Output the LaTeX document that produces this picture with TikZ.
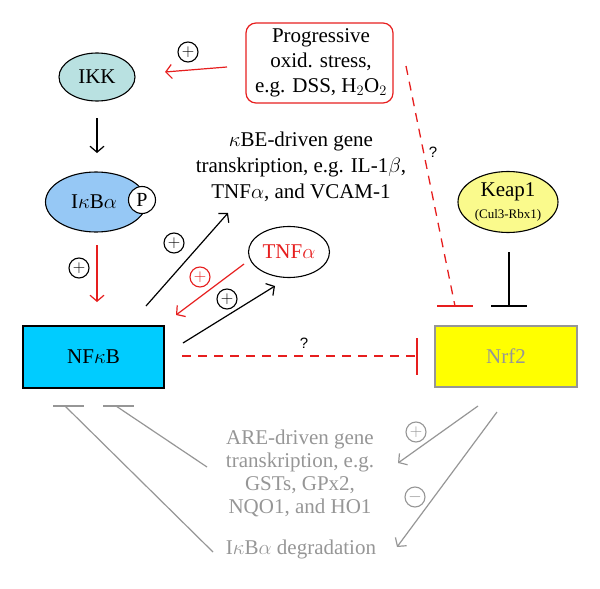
\documentclass[tikz,border=0pt]{standalone}
\usepackage{fontspec}
\setmainfont{Liberation Serif}
\setsansfont{Liberation Sans}
\usetikzlibrary{arrows.meta,shapes.geometric}
\definecolor{ikkfill}{RGB}{185,225,225}
\definecolor{ikbfill}{RGB}{150,200,245}
\definecolor{nfkbfill}{RGB}{0,204,255}
\definecolor{nrffill}{RGB}{255,255,0}
\definecolor{keapfill}{RGB}{250,250,140}
\definecolor{myred}{RGB}{230,30,30}
\definecolor{mygray}{RGB}{150,150,150}
\tikzset{
  txt/.style={font=\fontsize{21}{24}\selectfont, align=center, inner sep=0pt},
  arr/.style={-{Straight Barb[length=6pt,width=14pt]}, line width=1.2pt},
  bar/.style={line width=1.4pt},
  pluscirc/.style={circle, draw, line width=1.1pt, minimum size=20pt, inner sep=0pt, font=\fontsize{16}{16}\selectfont},
  qmark/.style={font=\sffamily\fontsize{15}{15}\selectfont, inner sep=0pt},
  ell/.style={ellipse, draw, line width=1.1pt, inner sep=0pt},
  boxn/.style={rectangle, draw, line width=1.2pt, inner sep=0pt},
}
\begin{document}
\begin{tikzpicture}[x=1pt,y=-1pt]
\useasboundingbox (0,0) rectangle (600,589);
% nodes
\node[ell, fill=ikkfill, minimum width=76pt, minimum height=48pt, txt] (ikk) at (97,77) {IKK};
\node[ell, fill=ikbfill, minimum width=101pt, minimum height=60pt] (ikb) at (96,202) {};
\node[txt] (ikbtext) at (94,202) {I$\kappa$B$\alpha$};
\node[circle, draw, fill=white, line width=1.1pt, minimum size=27pt, inner sep=0pt, font=\fontsize{20}{20}\selectfont] (p) at (142,200) {P};
\node[boxn, fill=nfkbfill, minimum width=141pt, minimum height=62pt, txt] (nfkb) at (93.5,357) {NF$\kappa$B};
\node[boxn, draw=mygray, fill=nrffill, minimum width=142pt, minimum height=61pt, txt, text=mygray] (nrf2) at (506,356.5) {Nrf2};
\node[rectangle, draw=myred, rounded corners=10pt, line width=1.2pt, minimum width=147pt, minimum height=80pt, inner sep=0pt] (ox) at (319.5,63) {};
\node[txt, font=\fontsize{21}{25}\selectfont] (oxtext) at (321,63) {Progressive\\oxid. stress,\\e.g. DSS, H$_2$O$_2$};
\node[txt, font=\fontsize{21}{26}\selectfont] (kbe) at (301,167) {$\kappa$BE-driven gene\\transkription, e.g. IL-1$\beta$,\\TNF$\alpha$, and VCAM-1};
\node[ell, minimum width=81pt, minimum height=51pt, txt, text=myred] (tnf) at (289,252) {TNF$\alpha$};
\node[ell, fill=keapfill, minimum width=100pt, minimum height=61pt] (keap) at (508,202) {};
\node[txt, align=center] (keaptext) at (508,202) {\rmfamily Keap1\\[-2pt]{\rmfamily\fontsize{13}{13}\selectfont(Cul3-Rbx1)}};
\node[txt, text=mygray, font=\fontsize{21}{23}\selectfont] (are) at (300,473) {ARE-driven gene\\transkription, e.g.\\GSTs, GPx2,\\NQO1, and HO1};
\node[txt, text=mygray] (deg) at (301,549) {I$\kappa$B$\alpha$ degradation};
% coordinates for connector ends
\coordinate (ikkout) at (97,118);
\coordinate (ikbin) at (97,153);
\coordinate (ikbout) at (97,245);
\coordinate (nfkbin) at (97,302);
\coordinate (oxout) at (227,67);
\coordinate (ikkin) at (165,72);
\coordinate (nfa) at (146,306);
\coordinate (kbein) at (228,213);
\coordinate (tnfout) at (244,264);
\coordinate (nfin) at (176,315);
\coordinate (nfb) at (183,343);
\coordinate (tnfin) at (275,286);
\coordinate (nfc) at (182,356);
\coordinate (nrfbar) at (417,356);
\coordinate (oxd) at (406,66);
\coordinate (nrfbar2) at (455,306);
\coordinate (keapout) at (509,252);
\coordinate (nrfbar3) at (509,306);
\coordinate (nfbar1) at (65,406);
\coordinate (nfbar2) at (116,406);
\coordinate (aretip) at (207,467);
\coordinate (degtip) at (213,552);
\coordinate (nrfa) at (478,406);
\coordinate (arein) at (398,463);
\coordinate (nrfb) at (497,412);
\coordinate (degin) at (397,547);
% connectors
\draw[arr] (ikkout) -- (ikbin);
\draw[arr, myred] (ikbout) -- (nfkbin);
\node[pluscirc] (p1) at (79,268) {$+$};
\draw[arr, myred] (oxout) -- (ikkin);
\node[pluscirc] (p2) at (188,52) {$+$};
\draw[arr] (nfa) -- (kbein);
\node[pluscirc] (p3) at (174,243) {$+$};
\draw[arr, myred] (tnfout) -- (nfin);
\node[pluscirc, myred] (p4) at (200,277) {$+$};
\draw[arr] (nfb) -- (tnfin);
\node[pluscirc] (p5) at (227,299) {$+$};
\draw[myred, line width=1.3pt, dash pattern=on 9pt off 7pt] (nfc) -- (nrfbar);
\draw[bar, myred] ([yshift=-18.5pt]nrfbar) -- ([yshift=18.5pt]nrfbar);
\node[qmark] (q1) at (304,343) {?};
\draw[myred, line width=1.3pt, dash pattern=on 9pt off 7pt] (oxd) -- (nrfbar2);
\draw[bar, myred] ([xshift=-18pt]nrfbar2) -- ([xshift=18pt]nrfbar2);
\node[qmark] (q2) at (433,152) {?};
\draw[line width=1.4pt] (keapout) -- (nrfbar3);
\draw[bar] ([xshift=-18pt]nrfbar3) -- ([xshift=18pt]nrfbar3);
% gray lower part
\draw[mygray, line width=1.2pt] (aretip) -- (nfbar2);
\draw[mygray, line width=1.4pt] ([xshift=-13pt]nfbar2) -- ([xshift=18pt]nfbar2);
\draw[mygray, line width=1.2pt] (degtip) -- (nfbar1);
\draw[mygray, line width=1.4pt] ([xshift=-12pt]nfbar1) -- ([xshift=19pt]nfbar1);
\draw[arr, mygray] (nrfa) -- (arein);
\node[pluscirc, mygray] (p6) at (416,432) {$+$};
\draw[arr, mygray] (nrfb) -- (degin);
\node[pluscirc, mygray] (p7) at (415,497) {$-$};
\end{tikzpicture}
\end{document}
